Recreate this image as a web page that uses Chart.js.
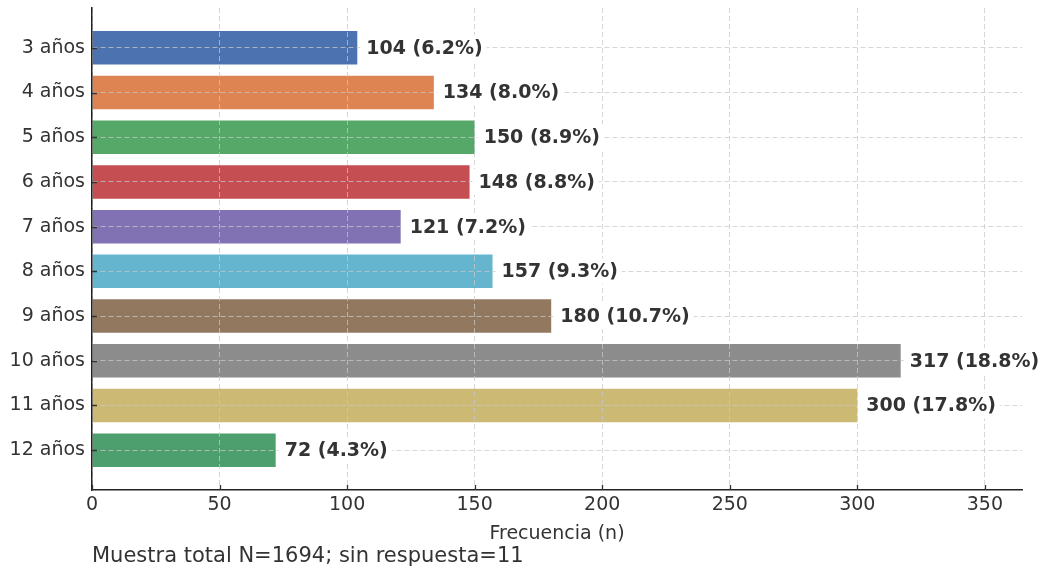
<!DOCTYPE html>
<html>
<head>
<meta charset="utf-8">
<script src="https://cdn.jsdelivr.net/npm/chart.js@4"></script>
<style>
    body { margin: 0; background: #fff; }
    #wrap { width: 1043px; height: 571px; }
</style>
</head>
<body>
<div id="wrap"><canvas id="chart" width="1043" height="571"></canvas></div>
<script>
const categories = ['3 años', '4 años', '5 años', '6 años', '7 años', '8 años', '9 años', '10 años', '11 años', '12 años'];
const counts = [104, 134, 150, 148, 121, 157, 180, 317, 300, 72];
const barColors = ['#4C72B0', '#DD8452', '#55A868', '#C44E52', '#8172B3', '#64B5CD', '#937860', '#8C8C8C', '#CCB974', '#4E9F6E'];
const xTicks = [0, 50, 100, 150, 200, 250, 300, 350];
const noAnswer = 11;

const total = counts.reduce((a, b) => a + b, 0);
const FONT = 'DejaVu Sans';

// short tick marks pointing into the plot, plus value labels and the footer note
const extras = {
    id: 'extras',
    afterDraw(chart) {
        const ctx = chart.ctx;
        const { left, bottom } = chart.chartArea;
        const xs = chart.scales.x, ys = chart.scales.y;
        ctx.save();
        ctx.strokeStyle = '#333';
        ctx.lineWidth = 1.3;
        ctx.beginPath();
        xs.ticks.forEach(t => {
            const px = Math.round(xs.getPixelForValue(t.value)) + 0.5;
            ctx.moveTo(px, bottom);
            ctx.lineTo(px, bottom - 5);
        });
        ys.ticks.forEach(t => {
            const py = Math.round(ys.getPixelForValue(t.value)) + 0.5;
            ctx.moveTo(left, py);
            ctx.lineTo(left + 5, py);
        });
        ctx.stroke();

        const meta = chart.getDatasetMeta(0);
        ctx.font = `bold 19px "${FONT}"`;
        ctx.textBaseline = 'middle';
        ctx.textAlign = 'left';
        meta.data.forEach((bar, i) => {
            const text = `${counts[i]} (${(counts[i] / total * 100).toFixed(1)}%)`;
            const x = bar.x + 9;
            const w = ctx.measureText(text).width;
            ctx.fillStyle = '#fff';
            ctx.fillRect(x - 6, bar.y - 13, w + 10, 26);
            ctx.fillStyle = '#333';
            ctx.fillText(text, x, bar.y + 1);
        });

        ctx.font = `21px "${FONT}"`;
        ctx.fillStyle = '#333';
        ctx.fillText(`Muestra total N=${total + noAnswer}; sin respuesta=${noAnswer}`, left, 557);
        ctx.restore();
    }
};

const gridStyle = {
    color: 'rgba(200, 200, 200, 0.75)',
    lineWidth: 1,
    offset: false,
    drawTicks: false,
    z: 1
};
const borderStyle = { display: true, color: '#222', width: 1.5, dash: [5, 3], z: 1 };

new Chart(document.getElementById('chart').getContext('2d'), {
    type: 'bar',
    data: {
        datasets: [{
            data: counts.map((v, i) => ({ x: v, y: i })),
            backgroundColor: barColors,
            borderWidth: 0,
            categoryPercentage: 0.75,
            barPercentage: 1
        }]
    },
    options: {
        indexAxis: 'y',
        responsive: false,
        animation: false,
        layout: { padding: { top: 8, right: 21, bottom: 26, left: 0 } },
        plugins: {
            legend: { display: false },
            tooltip: { enabled: false }
        },
        scales: {
            x: {
                type: 'linear',
                min: 0,
                max: Math.max(...counts) * 1.15,
                afterBuildTicks: s => { s.ticks = xTicks.map(v => ({ value: v })); },
                afterFit: s => { s.height = 55; s.paddingLeft = 0; s.paddingRight = 0; },
                grid: gridStyle,
                border: borderStyle,
                ticks: { color: '#333', font: { family: FONT, size: 19 }, padding: 4, maxRotation: 0 },
                title: {
                    display: true,
                    text: 'Frecuencia (n)',
                    color: '#333',
                    font: { family: FONT, size: 19 },
                    padding: { top: 0, bottom: 0 }
                }
            },
            y: {
                type: 'linear',
                reverse: true,
                offset: false,
                min: -0.89,
                max: categories.length - 1 + 0.89,
                afterBuildTicks: s => { s.ticks = categories.map((c, i) => ({ value: i })); },
                afterFit: s => { s.width = 92; s.paddingTop = 0; s.paddingBottom = 0; },
                grid: gridStyle,
                border: borderStyle,
                ticks: {
                    autoSkip: false,
                    color: '#333',
                    font: { family: FONT, size: 19 },
                    padding: 7,
                    callback: v => categories[v]
                }
            }
        }
    },
    plugins: [extras]
});
</script>
</body>
</html>
